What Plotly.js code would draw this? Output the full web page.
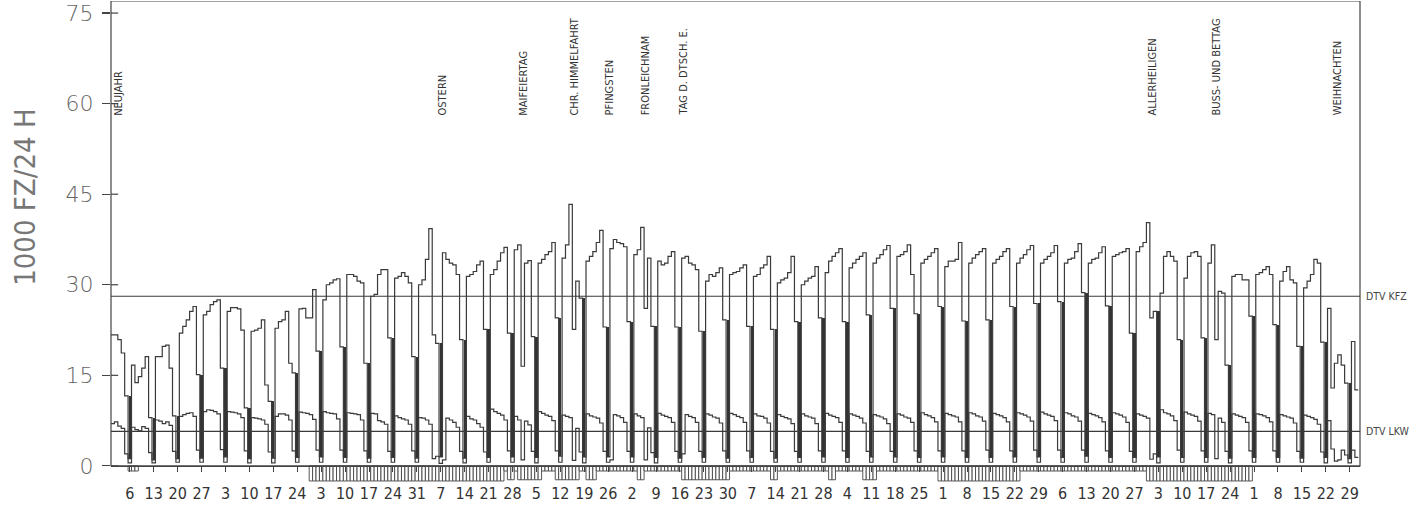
<!DOCTYPE html>
<html><head><meta charset="utf-8">
<script src="https://cdn.plot.ly/plotly-3.0.1.min.js"></script>
<style>html,body{margin:0;padding:0;background:#fff}#chart{width:1415px;height:508px}</style>
</head><body><div id="chart"></div>
<script>
// Daily values 1985 (1000 vehicles / 24 h), day 0 = Tue 1 Jan
const kfz = [
 21.7,21.7,20.9,18.7,11.6,1.2,
 16.7,13.8,14.8,16.2,18.1,8.0,1.0,
 18.1,18.1,19.8,20.0,16.2,8.3,1.2,
 22.0,23.1,24.2,25.6,26.4,15.1,1.3,
 25.0,25.6,26.7,27.2,27.5,16.2,1.5,
 25.6,26.2,26.2,26.0,22.5,9.6,1.2,
 22.3,22.5,22.8,24.2,13.4,10.7,1.3,
 22.8,23.9,24.2,25.6,17.0,15.4,1.4,
 26.0,26.1,24.5,24.5,29.2,19.0,1.5,
 27.5,30.0,30.3,30.8,31.0,19.7,1.4,
 31.7,31.7,31.4,30.6,30.3,17.0,1.3,
 28.1,28.4,31.7,32.5,32.5,21.2,1.4,
 31.1,31.4,32.0,31.4,30.3,18.1,1.3,
 30.0,30.8,34.2,39.3,21.7,20.3,1.5,
 35.3,34.2,33.6,33.3,31.7,20.9,1.3,
 31.4,31.7,32.2,33.3,33.9,22.6,1.4,
 31.7,32.5,33.9,35.3,36.2,22.0,1.5,
 35.8,36.6,16.5,33.6,34.0,21.4,1.4,
 33.6,34.2,35.0,35.5,37.0,24.5,1.6,
 34.4,36.6,43.3,22.6,30.6,27.8,1.5,
 33.9,34.7,35.5,37.0,39.0,23.0,1.5,
 36.0,37.5,37.0,36.8,36.3,23.9,1.5,
 35.0,35.8,39.5,26.1,34.4,23.1,1.4,
 33.9,33.3,33.6,34.7,35.5,23.0,1.3,
 34.4,34.7,33.6,33.3,32.5,22.3,1.4,
 30.6,31.7,31.4,32.0,32.8,24.2,1.3,
 31.7,32.0,32.2,32.8,33.3,23.1,1.4,
 31.4,31.7,32.8,33.3,34.7,22.6,1.3,
 30.3,30.8,31.1,32.0,34.7,23.9,1.4,
 30.0,30.6,31.1,31.4,33.0,24.5,1.5,
 32.0,33.9,34.7,35.3,36.0,23.9,1.4,
 32.8,33.6,34.2,34.7,35.3,25.0,1.5,
 33.6,34.4,35.0,35.8,36.5,26.1,1.5,
 34.7,35.0,35.5,36.6,31.7,25.2,1.4,
 33.6,34.2,34.7,35.3,36.0,26.4,1.5,
 33.0,33.9,33.9,34.2,37.0,24.0,1.4,
 33.6,34.4,35.0,35.5,36.0,24.2,1.4,
 33.6,34.2,34.7,35.5,36.0,26.4,1.5,
 33.6,34.4,35.0,35.8,36.5,26.9,1.5,
 33.6,34.2,34.7,35.3,36.5,27.2,1.4,
 33.6,34.2,34.4,35.5,36.8,28.7,1.6,
 33.6,34.2,34.4,35.3,36.3,26.5,1.4,
 34.7,35.0,35.3,35.5,36.0,22.0,1.4,
 35.5,36.3,37.0,40.3,24.5,25.6,1.5,
 28.6,34.7,35.5,34.7,33.9,20.9,1.4,
 31.1,34.7,35.3,35.5,34.7,21.2,1.4,
 33.6,36.6,20.9,28.9,28.6,16.7,1.3,
 31.4,31.7,31.7,30.8,30.8,24.8,1.4,
 31.7,32.0,32.5,33.0,31.7,23.4,1.4,
 30.6,32.2,33.0,30.8,30.3,19.8,1.3,
 29.5,30.6,31.7,34.2,33.6,20.5,1.4,
 26.1,12.9,17.0,18.4,16.7,13.7,1.2,
 20.6,12.6
];
const lkw = [
 7.0,7.3,6.6,6.2,2.0,0.5,
 6.4,6.0,5.8,6.5,6.2,2.2,0.5,
 7.6,7.4,7.0,7.3,6.7,2.4,0.6,
 8.2,8.5,8.7,8.8,8.2,2.6,0.6,
 9.0,9.3,9.2,9.0,8.6,2.7,0.6,
 9.0,8.9,8.8,8.6,8.0,2.5,0.5,
 8.0,7.9,7.8,7.6,6.9,2.3,0.5,
 8.2,8.6,8.6,8.4,7.6,2.5,0.6,
 8.9,8.8,8.7,8.5,7.7,2.6,0.6,
 9.0,8.8,8.7,8.6,7.8,2.6,0.6,
 8.8,8.7,8.6,8.5,7.6,2.5,0.6,
 8.7,8.6,7.5,7.3,6.9,2.4,0.6,
 8.3,8.0,7.8,7.6,6.9,2.5,0.6,
 8.0,7.9,7.6,6.9,1.2,1.6,0.4,
 1.0,7.9,7.6,7.2,6.4,2.4,0.5,
 8.2,7.8,7.6,7.0,6.4,2.3,0.6,
 9.4,9.0,8.7,8.4,7.6,2.5,0.6,
 8.2,7.6,1.0,7.4,6.8,2.4,0.5,
 9.0,8.7,8.4,8.2,7.5,2.5,0.6,
 8.4,8.2,8.0,0.9,6.2,2.3,0.5,
 8.6,8.3,8.1,7.9,7.1,2.4,0.6,
 1.0,8.5,8.3,8.0,7.2,2.4,0.6,
 8.6,8.3,8.0,1.0,6.3,2.2,0.5,
 8.7,8.4,8.2,8.0,7.2,2.4,0.6,
 2.0,8.5,8.2,8.0,7.2,2.4,0.6,
 8.6,8.4,8.1,7.9,7.1,2.5,0.6,
 8.7,8.5,8.2,8.0,7.2,2.5,0.6,
 8.6,8.3,8.2,7.9,7.1,2.4,0.6,
 8.5,8.2,8.0,7.8,7.0,2.4,0.6,
 8.6,8.3,8.1,7.9,7.0,2.5,0.6,
 8.7,8.4,8.2,8.0,7.2,2.5,0.6,
 8.6,8.4,8.2,7.9,7.1,2.4,0.6,
 8.5,8.3,8.1,7.8,7.0,2.4,0.6,
 8.6,8.4,8.1,7.9,7.2,2.5,0.6,
 8.8,8.5,8.3,8.0,7.3,2.5,0.6,
 8.7,8.5,8.3,8.1,7.3,2.5,0.6,
 8.8,8.6,8.3,8.1,7.4,2.6,0.6,
 8.7,8.5,8.3,8.0,7.3,2.5,0.6,
 8.8,8.6,8.4,8.1,7.4,2.6,0.6,
 8.9,8.6,8.4,8.2,7.5,2.6,0.6,
 8.8,8.6,8.3,8.1,7.4,2.6,0.6,
 8.7,8.5,8.3,8.0,7.3,2.5,0.6,
 8.8,8.6,8.4,8.1,7.2,2.4,0.6,
 8.6,8.4,8.2,7.9,1.1,2.0,0.5,
 9.3,8.8,8.6,8.3,7.5,2.6,0.6,
 8.9,8.6,8.4,8.2,7.4,2.5,0.6,
 8.7,8.5,1.2,7.9,7.2,2.4,0.5,
 8.6,8.4,8.2,8.0,7.2,2.5,0.6,
 8.6,8.5,8.3,8.0,7.3,2.5,0.6,
 8.5,8.3,8.1,7.9,7.1,2.4,0.6,
 8.4,8.2,8.0,7.7,6.9,2.3,0.5,
 7.5,2.8,0.8,1.0,2.6,1.8,0.5,
 2.6,1.4
];
const dtvKfz = 28.1;
const dtvLkw = 5.7;

// Sunday tick labels (day of month)
const sundayLabels = ['6','13','20','27','3','10','17','24','3','10','17','24','31','7','14','21','28','5','12','19','26',
 '2','9','16','23','30','7','14','21','28','4','11','18','25','1','8','15','22','29','6','13','20','27','3','10','17','24',
 '1','8','15','22','29'];
const firstSunday = 5;

// Holidays: label and day of year (0-based)
const holidayNames = ['NEUJAHR','OSTERN','MAIFEIERTAG','CHR. HIMMELFAHRT','PFINGSTEN','FRONLEICHNAM','TAG D. DTSCH. E.','ALLERHEILIGEN','BUSS- UND BETTAG','WEIHNACHTEN'];
const holidayDays  = [1.5, 96.5, 120, 135, 145.5, 156, 167, 304, 323, 358.5];

// Hatched periods below the axis [first day, last day]
const thinPeriods = [[5,7],[115,302]];
const boxPeriods  = [[116,117],[119,125],[130,136],[139,141],[154,155],[167,180],[193,194],[210,211],[220,223]];
const deepPeriods = [[58,114],[242,265],[303,333]];

const yTicks = [0,15,30,45,60,75];

// ---------- build ----------
const N = kfz.length;
const stepX = [], kfzY = [], lkwY = [];
for (let i = 0; i < N; i++) { stepX.push(i - 0.5); kfzY.push(kfz[i]); lkwY.push(lkw[i]); }
stepX.push(N - 0.5); kfzY.push(kfz[N-1]); lkwY.push(lkw[N-1]);

const depth = new Array(N).fill(0);
const setP = (ps, d) => ps.forEach(([a,b]) => { for (let i=a;i<=b;i++) depth[i] = Math.max(depth[i], d); });
setP(thinPeriods, 0.85); setP(boxPeriods, 2.3); setP(deepPeriods, 2.5);
const bandX = [], bandY = [];
depth.forEach((d,i) => { if (d>0) { bandX.push(i); bandY.push(-d); } });

const sunX = [], sunBase = [], sunH = [];
for (let i = firstSunday; i < N; i += 7) {
  const lo = kfz[i], hi = Math.min(kfz[i-1], i+1<N ? kfz[i+1] : kfz[i-1]);
  if (hi - lo > 2) { sunX.push(i); sunBase.push(lo); sunH.push(hi - lo); }
}
const tickvals = sundayLabels.map((_,k) => firstSunday + 7*k);

const lineCol = '#3a3a3a';
const narrow = 'DejaVu Sans Condensed, Liberation Sans, sans-serif';
const traces = [
  {type:'bar', x:bandX, y:bandY, width:1, marker:{color:'#fff', line:{color:'#444', width:0.9}}, hoverinfo:'skip'},
  {type:'bar', x:sunX, y:sunH, base:sunBase, width:0.66, marker:{color:'#333', line:{width:0}}, hoverinfo:'skip'},
  {type:'scatter', mode:'lines', x:stepX, y:lkwY, line:{shape:'hv', color:lineCol, width:1.2}, name:'LKW'},
  {type:'scatter', mode:'lines', x:stepX, y:kfzY, line:{shape:'hv', color:lineCol, width:1.2}, name:'KFZ'}
];

const Y0 = -3, Y1 = 77;
const shapes = [
  {type:'rect', xref:'paper', yref:'y', x0:0, x1:1, y0:0, y1:Y1, line:{color:'#444', width:1.2}},
  {type:'line', xref:'paper', yref:'y', x0:0, x1:1, y0:dtvKfz, y1:dtvKfz, line:{color:'#3a3a3a', width:1.2}},
  {type:'line', xref:'paper', yref:'y', x0:0, x1:1, y0:dtvLkw, y1:dtvLkw, line:{color:'#3a3a3a', width:1.2}}
];
yTicks.forEach(v => shapes.push({type:'line', xref:'x', yref:'y', x0:-0.5, x1:1.6, y0:v, y1:v, line:{color:'#444', width:1.2}}));

const annotations = holidayNames.map((t,k) => ({
  text:t, x:holidayDays[k], y:57.7, xref:'x', yref:'y', textangle:-90, xanchor:'center', yanchor:'bottom',
  showarrow:false, font:{family:narrow, size:11, color:'#333'}
}));
annotations.push({text:'DTV KFZ', xref:'paper', yref:'y', x:1, y:dtvKfz, xanchor:'left', yanchor:'middle', xshift:4, showarrow:false, font:{family:narrow, size:10.5, color:'#444'}});
annotations.push({text:'DTV LKW', xref:'paper', yref:'y', x:1, y:dtvLkw, xanchor:'left', yanchor:'middle', xshift:4, showarrow:false, font:{family:narrow, size:10.5, color:'#444'}});
annotations.push({text:'1000 FZ/24 H', xref:'paper', yref:'y', x:0, y:44.4, xshift:-86, xanchor:'center', yanchor:'middle', textangle:-90, showarrow:false, font:{family:narrow, size:29, color:'#777', weight:200}});

const layout = {
  width:1415, height:508, margin:{l:111, r:55, t:1, b:24},
  paper_bgcolor:'#fff', plot_bgcolor:'#fff', showlegend:false, barmode:'overlay', bargap:0,
  xaxis:{range:[-0.5,365], showgrid:false, zeroline:false, showline:true, linecolor:'#444', linewidth:1.2,
    anchor:'free', position:(0-Y0)/(Y1-Y0), tickmode:'array', tickvals:tickvals, ticktext:sundayLabels,
    ticks:'outside', ticklen:5, tickcolor:'#444', tickwidth:1,
    tickfont:{family:narrow, size:16, color:'#333'}, ticklabelstandoff:8, automargin:false},
  yaxis:{range:[Y0,Y1], showgrid:false, zeroline:false, showline:false, tickmode:'array', tickvals:yTicks,
    ticks:'outside', ticklen:8, tickcolor:'#444', tickwidth:1.2,
    tickfont:{family:'DejaVu Sans', size:22, color:'#666', weight:200}, ticklabelstandoff:4, automargin:false},
  shapes:shapes, annotations:annotations
};
Plotly.newPlot('chart', traces, layout, {displayModeBar:false, staticPlot:true});
</script></body></html>
